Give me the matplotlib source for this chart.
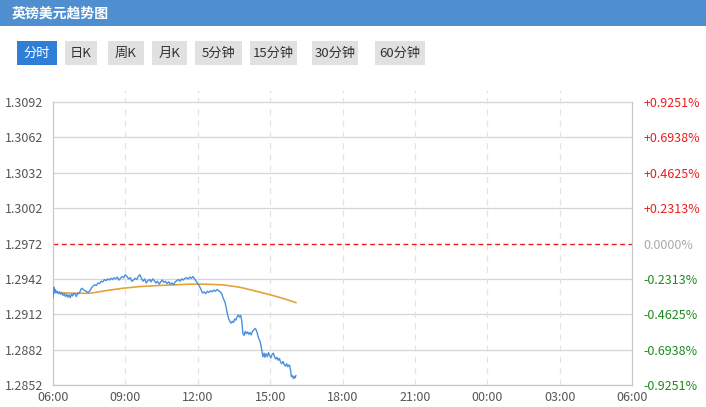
import numpy as np
import matplotlib
matplotlib.use('Agg')
import matplotlib.pyplot as plt
from matplotlib.patches import Rectangle

plt.rcParams['font.family'] = ['Noto Sans CJK SC', 'DejaVu Sans']

# Data
title = '英镑美元趋势图'
tabs = ['分时', '日K', '周K', '月K', '5分钟', '15分钟', '30分钟', '60分钟']
prev_close = 1.2972
y_ticks = [1.2852, 1.2882, 1.2912, 1.2942, 1.2972, 1.3002, 1.3032, 1.3062, 1.3092]
x_labels = ['06:00', '09:00', '12:00', '15:00', '18:00', '21:00', '00:00', '03:00', '06:00']

# minutes after 06:00 and price
price_min = [0, 2, 4, 6, 8, 10, 13, 16, 19, 22, 25, 28, 31, 34, 37, 40, 43, 46, 49, 52,
             55, 58, 61, 64, 67, 70, 73, 76, 80, 84, 88, 92, 96, 100, 104, 108, 112, 116,
             120, 124, 128, 132, 136, 140, 144, 148, 152, 156, 160, 164, 168, 172, 176,
             180, 184, 188, 192, 196, 200, 204, 208, 212, 216, 220, 224, 228, 232, 236,
             240, 244, 248, 252, 256, 260, 264, 268, 272, 276, 280, 284, 288, 292, 296,
             300, 304, 308, 312, 316, 320, 324, 328, 332, 336, 340, 344, 348, 352, 356,
             360, 364, 368, 372, 376, 380, 384, 388, 392, 396, 400, 404, 408, 412, 416,
             420, 424, 428, 431, 434, 437, 440, 443, 446, 449, 452, 455, 458, 461, 464,
             467, 470, 472, 475, 478, 481, 484, 487, 490, 493, 496, 499, 502, 505, 508,
             511, 514, 517, 520, 522, 525, 527, 530, 533, 536, 539, 542, 545, 548, 551,
             554, 557, 560, 563, 566, 569, 572, 575, 578, 581, 584, 587, 589, 591, 593,
             596, 598, 600, 602, 604]
price = [1.29260, 1.29350, 1.29300, 1.29330, 1.29305, 1.29315, 1.29295, 1.29310, 1.29290,
         1.29300, 1.29280, 1.29295, 1.29270, 1.29290, 1.29265, 1.29285, 1.29260, 1.29290,
         1.29275, 1.29300, 1.29290, 1.29270, 1.29300, 1.29295, 1.29310, 1.29335, 1.29340,
         1.29325, 1.29320, 1.29310, 1.29305, 1.29320, 1.29345, 1.29360, 1.29370, 1.29365,
         1.29385, 1.29380, 1.29400, 1.29395, 1.29415, 1.29405, 1.29420, 1.29410, 1.29425,
         1.29415, 1.29430, 1.29420, 1.29435, 1.29410, 1.29425, 1.29440, 1.29430, 1.29455,
         1.29440, 1.29420, 1.29430, 1.29400, 1.29410, 1.29425, 1.29415, 1.29440, 1.29455,
         1.29425, 1.29400, 1.29420, 1.29385, 1.29405, 1.29415, 1.29395, 1.29420, 1.29405,
         1.29385, 1.29400, 1.29375, 1.29395, 1.29410, 1.29390, 1.29400, 1.29380, 1.29395,
         1.29375, 1.29385, 1.29370, 1.29395, 1.29405, 1.29415, 1.29400, 1.29420, 1.29410,
         1.29425, 1.29430, 1.29420, 1.29435, 1.29425, 1.29440, 1.29420, 1.29400, 1.29380,
         1.29360, 1.29330, 1.29300, 1.29310, 1.29295, 1.29315, 1.29305, 1.29320, 1.29310,
         1.29325, 1.29315, 1.29330, 1.29320, 1.29310, 1.29290, 1.29250, 1.29220, 1.29170,
         1.29120, 1.29080, 1.29060, 1.29045, 1.29060, 1.29050, 1.29080, 1.29070, 1.29100,
         1.29115, 1.29095, 1.29110, 1.29050, 1.28960, 1.28940, 1.28975, 1.28955, 1.28970,
         1.28950, 1.28965, 1.28945, 1.28975, 1.28985, 1.29000, 1.28990, 1.28960, 1.28920,
         1.28900, 1.28860, 1.28800, 1.28760, 1.28790, 1.28755, 1.28785, 1.28760, 1.28795,
         1.28770, 1.28750, 1.28780, 1.28790, 1.28760, 1.28740, 1.28755, 1.28730, 1.28745,
         1.28715, 1.28700, 1.28720, 1.28695, 1.28680, 1.28700, 1.28675, 1.28690, 1.28680,
         1.28640, 1.28590, 1.28600, 1.28575, 1.28590, 1.28580, 1.28600]

avg_min = [3, 50, 92, 133, 175, 216, 258, 299, 341, 382, 424, 465, 506, 548, 581, 604]
avg_price = [1.29307, 1.29298, 1.29298, 1.29321, 1.29341, 1.29355, 1.29363, 1.29369,
             1.29375, 1.29375, 1.29369, 1.29349, 1.29315, 1.29278, 1.29245, 1.29219]

W, H = 706, 407
fig = plt.figure(figsize=(W / 100, H / 100), dpi=100)

# header and tabs drawn in pixel coords
bg = fig.add_axes([0, 0, 1, 1])
bg.set_xlim(0, W)
bg.set_ylim(H, 0)
bg.axis('off')
bg.add_patch(Rectangle((0, 0), W, 26, color='#4f8fd0', lw=0))
bg.text(12, 13.5, title, color='white', fontsize=10, fontweight='bold', va='center')

tab_x = [17, 65, 108, 152, 195, 250, 312, 375]
tab_w = [40, 32, 36, 35, 47, 47, 46, 50]
for i, t in enumerate(tabs):
    fc = '#2f7fd6' if i == 0 else '#e1e1e1'
    tc = 'white' if i == 0 else '#333333'
    bg.add_patch(Rectangle((tab_x[i], 41), tab_w[i], 24, color=fc, lw=0))
    bg.text(tab_x[i] + tab_w[i] / 2, 53, t, color=tc, fontsize=9.5, ha='center', va='center')

# chart
ax = fig.add_axes([53 / W, 22 / H, 579 / W, 295 / H])
ymin, ymax = y_ticks[0], y_ticks[-1]
ax.set_xlim(0, 1440)
ax.set_ylim(ymin, ymax + 0.00102)
ax.set_facecolor('none')

for v in y_ticks:
    if v != prev_close:
        ax.axhline(v, color='#d6d6d6', lw=0.9, zorder=1)
for m in range(180, 1440, 180):
    ax.axvline(m, color='#e4e4e4', lw=0.9, ls=(0, (5, 4)), zorder=1)
ax.axhline(prev_close, color='#ee1c1c', lw=1.0, ls=(0, (3.5, 2.5)), zorder=2)

ax.plot(avg_min, avg_price, color='#e3a33a', lw=1.2, zorder=3)
ax.plot(price_min, price, color='#4a8fe0', lw=1.0, zorder=4)

ax.spines['top'].set_visible(False)
for s in ['left', 'right', 'bottom']:
    ax.spines[s].set_color('#c8c8c8')
    ax.spines[s].set_linewidth(0.9)
ax.spines['left'].set_bounds(ymin, ymax)
ax.spines['right'].set_bounds(ymin, ymax)

ax.set_yticks(y_ticks)
ax.set_yticklabels([f'{v:.4f}' for v in y_ticks])
ax.set_xticks(range(0, 1441, 180))
ax.set_xticklabels(x_labels)
ax.tick_params(axis='both', length=0, labelsize=9, labelcolor='#555555')
ax.tick_params(axis='y', pad=7)
ax.tick_params(axis='x', pad=4)

ax2 = ax.twinx()
ax2.set_ylim(ax.get_ylim())
ax2.set_yticks(y_ticks)
labels = []
for v in y_ticks:
    p = (v - prev_close) / prev_close * 100
    labels.append(f'{p:+.4f}%' if abs(p) > 1e-9 else '0.0000%')
ax2.set_yticklabels(labels)
ax2.tick_params(axis='y', length=0, labelsize=9, pad=8)
for lab, v in zip(ax2.get_yticklabels(), y_ticks):
    if v > prev_close:
        lab.set_color('#ee1c1c')
    elif v < prev_close:
        lab.set_color('#1e8a1e')
    else:
        lab.set_color('#aaaaaa')
for s in ax2.spines.values():
    s.set_visible(False)

fig.savefig('out.png', dpi=100)
